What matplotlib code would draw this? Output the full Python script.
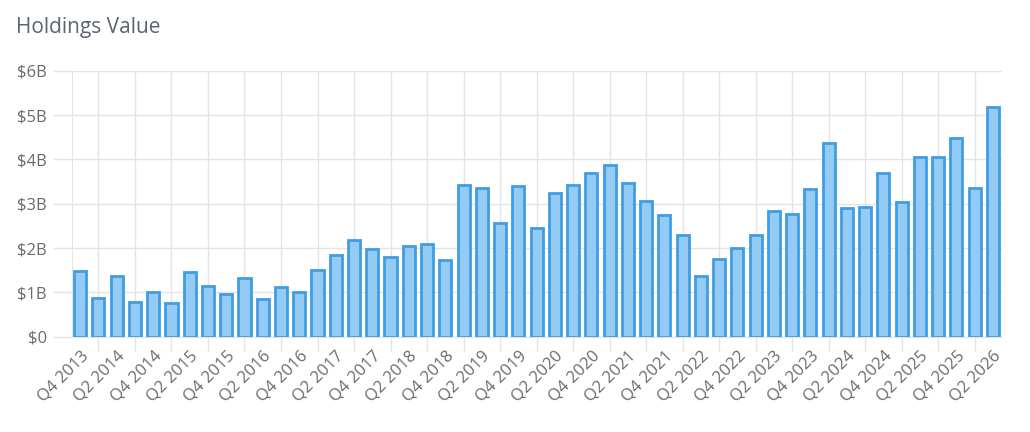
import numpy as np
import matplotlib
matplotlib.use('Agg')
import matplotlib.pyplot as plt
from matplotlib.ticker import FuncFormatter

plt.rcParams['font.family'] = ['Open Sans', 'DejaVu Sans']

quarters = ['Q4 2013'] + [f'Q{q} {y}' for y in range(2014, 2026) for q in range(1, 5)] + ['Q1 2026', 'Q2 2026']
values = [1.49, 0.87, 1.38, 0.79, 1.00, 0.77, 1.47, 1.15, 0.96, 1.33,
          0.85, 1.11, 1.01, 1.51, 1.84, 2.18, 1.97, 1.79, 2.05, 2.09,
          1.72, 3.43, 3.36, 2.56, 3.39, 2.45, 3.24, 3.43, 3.70, 3.87,
          3.47, 3.06, 2.75, 2.30, 1.36, 1.75, 2.00, 2.29, 2.84, 2.77,
          3.33, 4.37, 2.90, 2.93, 3.70, 3.04, 4.05, 4.05, 4.48, 3.36,
          5.19]
y_ticks = [0, 1, 2, 3, 4, 5, 6]

grid_c = '#e4e4e4'
text_c = '#6b6b6b'

fig = plt.figure(figsize=(10.3, 4.32), dpi=100)
ax = fig.add_axes([72 / 1030, 1 - 336.7 / 432, 930 / 1030, 266 / 432])

x = np.arange(len(values))
ax.bar(x, values, width=0.66, color='#93cbf4', edgecolor='#3f9de2', linewidth=2, zorder=3)

ax.set_xlim(-0.45, len(values) - 0.5)
ax.set_ylim(0, 6)

ax.set_yticks(y_ticks)
ax.yaxis.set_major_formatter(FuncFormatter(lambda v, p: '$0' if v == 0 else f'${int(v)}B'))
ax.tick_params(axis='y', length=14, width=1, color=grid_c, pad=4, labelsize=12, labelcolor=text_c)

ax.set_xticks(x[::2])
ax.set_xticklabels(quarters[::2], rotation=45, ha='right', rotation_mode='anchor')
ax.set_xticks(x[1::2], minor=True)
ax.tick_params(axis='x', which='major', length=0, pad=8, labelsize=12, labelcolor=text_c)
ax.tick_params(axis='x', which='minor', length=10, width=1, color=grid_c)

ax.grid(True, axis='y', color=grid_c, linewidth=1, zorder=0)
ax.grid(True, axis='x', which='minor', color=grid_c, linewidth=1, zorder=0)

for side in ['top', 'right']:
    ax.spines[side].set_visible(False)
ax.spines['left'].set_color(grid_c)
ax.spines['bottom'].set_color(grid_c)

fig.text(16 / 1030, 1 - 27 / 432, 'Holdings Value', fontsize=15, fontweight=500,
         color='#5b6470', va='center', ha='left')

fig.savefig('out.png', dpi=100)
